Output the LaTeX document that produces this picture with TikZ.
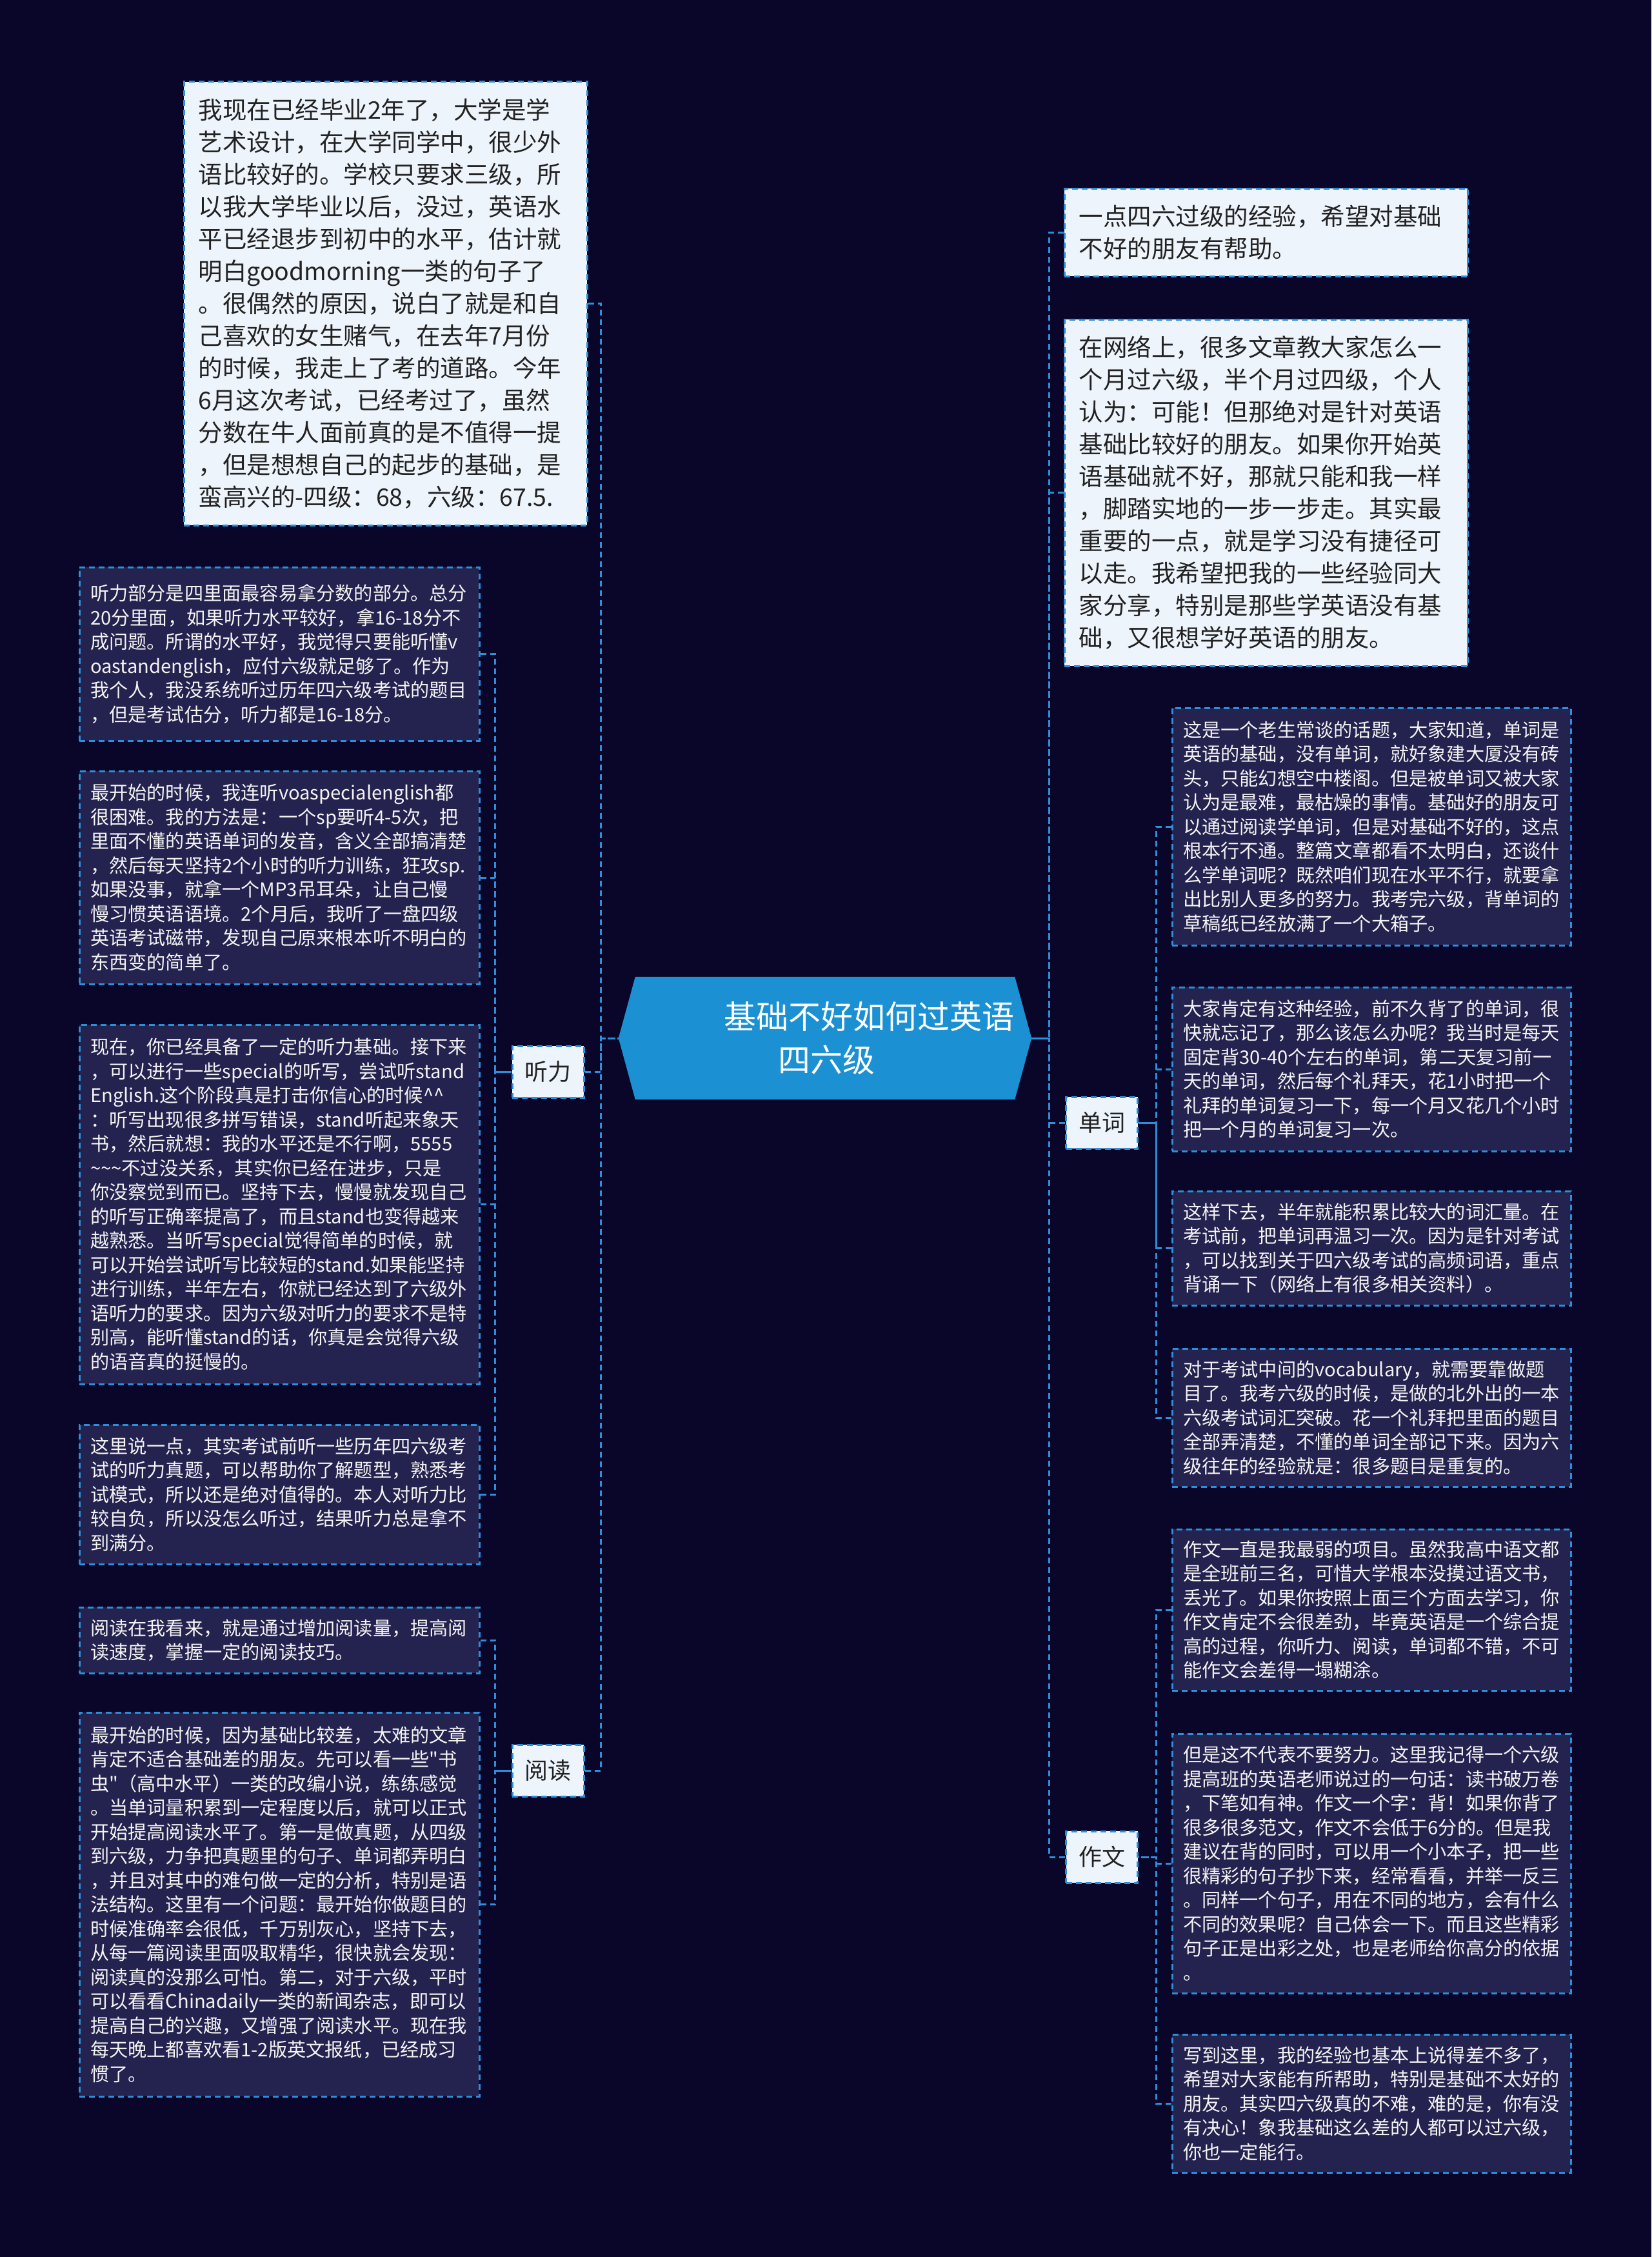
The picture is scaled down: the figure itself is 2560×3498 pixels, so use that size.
\documentclass[tikz,border=0pt]{standalone}
\usepackage{fontspec}
\setmainfont{Noto Sans CJK SC}[Ligatures=TeXOff]
\usetikzlibrary{backgrounds}
\definecolor{bgc}{HTML}{0A062A}
\definecolor{darkf}{HTML}{24224E}
\definecolor{lightf}{HTML}{EEF4FC}
\definecolor{linec}{HTML}{2B8FDA}
\definecolor{centerf}{HTML}{1B90D2}
\definecolor{darkt}{HTML}{222222}
\definecolor{lightt}{HTML}{F4F4F4}
\tikzset{
  dashline/.style={draw=linec, dash pattern=on 9pt off 6pt, line width=3pt},
  conn/.style={dashline},
  lightbox/.style={dashline, fill=lightf, text=darkt, font=\fontsize{37.5}{50}\selectfont, align=left, inner sep=0pt},
  darkbox/.style={dashline, fill=darkf, text=lightt, font=\fontsize{29.2}{37.5}\selectfont, align=left, inner sep=0pt},
  catbox/.style={dashline, fill=lightf, text=darkt, font=\fontsize{36}{40}\selectfont, inner sep=0pt, minimum width=111pt, minimum height=80pt},
  ctrnode/.style={text=white, font=\fontsize{50}{67}\selectfont, align=left, inner sep=0pt, text width=640pt, minimum height=190pt}
}
\begin{document}
\begin{tikzpicture}[x=1pt,y=-1pt]
\useasboundingbox (0,0) rectangle (2560,3498);

% centre
\node[ctrnode] (ctr) at (1279,1609) {\hspace*{163pt}基础不好如何过英语\\\hspace*{247pt}四六级};
\begin{scope}[on background layer]
\fill[bgc] (0,0) rectangle (2560,3498);
\fill[centerf] (ctr.west) -- ([xshift=26pt]ctr.north west) -- ([xshift=-26pt]ctr.north east) -- (ctr.east) -- ([xshift=-26pt]ctr.south east) -- ([xshift=26pt]ctr.south west) -- cycle;
\end{scope}

% left side
\node[lightbox, minimum width=625pt, minimum height=687pt, text width=580pt] (tl) at (597.5,470.5) {我现在已经毕业2年了，大学是学\\艺术设计，在大学同学中，很少外\\语比较好的。学校只要求三级，所\\以我大学毕业以后，没过，英语水\\平已经退步到初中的水平，估计就\\明白goodmorning一类的句子了\\。很偶然的原因，说白了就是和自\\己喜欢的女生赌气，在去年7月份\\的时候，我走上了考的道路。今年\\6月这次考试，已经考过了，虽然\\分数在牛人面前真的是不值得一提\\，但是想想自己的起步的基础，是\\蛮高兴的-四级：68，六级：67.5.};

\node[catbox] (tingli) at (849.5,1661) {听力};
\node[catbox] (yuedu) at (849.5,2744) {阅读};

\node[darkbox, minimum width=620pt, minimum height=269pt, text width=586pt] (l1) at (433,1013.5) {听力部分是四里面最容易拿分数的部分。总分\\20分里面，如果听力水平较好，拿16-18分不\\成问题。所谓的水平好，我觉得只要能听懂v\\oastandenglish，应付六级就足够了。作为\\我个人，我没系统听过历年四六级考试的题目\\，但是考试估分，听力都是16-18分。};

\node[darkbox, minimum width=620pt, minimum height=330pt, text width=586pt] (l2) at (433,1360) {最开始的时候，我连听voaspecialenglish都\\很困难。我的方法是：一个sp要听4-5次，把\\里面不懂的英语单词的发音，含义全部搞清楚\\，然后每天坚持2个小时的听力训练，狂攻sp.\\如果没事，就拿一个MP3吊耳朵，让自己慢\\慢习惯英语语境。2个月后，我听了一盘四级\\英语考试磁带，发现自己原来根本听不明白的\\东西变的简单了。};

\node[darkbox, minimum width=620pt, minimum height=557pt, text width=586pt] (l3) at (433,1866.5) {现在，你已经具备了一定的听力基础。接下来\\，可以进行一些special的听写，尝试听stand\\English.这个阶段真是打击你信心的时候\textasciicircum\textasciicircum\\：听写出现很多拼写错误，stand听起来象天\\书，然后就想：我的水平还是不行啊，5555\\\textasciitilde\textasciitilde\textasciitilde 不过没关系，其实你已经在进步，只是\\你没察觉到而已。坚持下去，慢慢就发现自己\\的听写正确率提高了，而且stand也变得越来\\越熟悉。当听写special觉得简单的时候，就\\可以开始尝试听写比较短的stand.如果能坚持\\进行训练，半年左右，你就已经达到了六级外\\语听力的要求。因为六级对听力的要求不是特\\别高，能听懂stand的话，你真是会觉得六级\\的语音真的挺慢的。};

\node[darkbox, minimum width=620pt, minimum height=216pt, text width=586pt] (l4) at (433,2316) {这里说一点，其实考试前听一些历年四六级考\\试的听力真题，可以帮助你了解题型，熟悉考\\试模式，所以还是绝对值得的。本人对听力比\\较自负，所以没怎么听过，结果听力总是拿不\\到满分。};

\node[darkbox, minimum width=620pt, minimum height=102pt, text width=586pt] (r1) at (433,2542) {阅读在我看来，就是通过增加阅读量，提高阅\\读速度，掌握一定的阅读技巧。};

\node[darkbox, minimum width=620pt, minimum height=595pt, text width=586pt] (r2) at (433,2951.5) {最开始的时候，因为基础比较差，太难的文章\\肯定不适合基础差的朋友。先可以看一些"书\\虫"（高中水平）一类的改编小说，练练感觉\\。当单词量积累到一定程度以后，就可以正式\\开始提高阅读水平了。第一是做真题，从四级\\到六级，力争把真题里的句子、单词都弄明白\\，并且对其中的难句做一定的分析，特别是语\\法结构。这里有一个问题：最开始你做题目的\\时候准确率会很低，千万别灰心，坚持下去，\\从每一篇阅读里面吸取精华，很快就会发现：\\阅读真的没那么可怕。第二，对于六级，平时\\可以看看Chinadaily一类的新闻杂志，即可以\\提高自己的兴趣，又增强了阅读水平。现在我\\每天晚上都喜欢看1-2版英文报纸，已经成习\\惯了。};

% right side
\node[lightbox, minimum width=625pt, minimum height=136pt, text width=580pt] (tr1) at (1962.5,360) {一点四六过级的经验，希望对基础\\不好的朋友有帮助。};

\node[lightbox, minimum width=625pt, minimum height=537pt, text width=580pt] (tr2) at (1962.5,763.5) {在网络上，很多文章教大家怎么一\\个月过六级，半个月过四级，个人\\认为：可能！但那绝对是针对英语\\基础比较好的朋友。如果你开始英\\语基础就不好，那就只能和我一样\\，脚踏实地的一步一步走。其实最\\重要的一点，就是学习没有捷径可\\以走。我希望把我的一些经验同大\\家分享，特别是那些学英语没有基\\础，又很想学好英语的朋友。};

\node[catbox] (danci) at (1708,1740) {单词};
\node[catbox] (zuowen) at (1708,2878) {作文};

\node[darkbox, minimum width=618pt, minimum height=368pt, text width=584pt] (w1) at (2126,1281) {这是一个老生常谈的话题，大家知道，单词是\\英语的基础，没有单词，就好象建大厦没有砖\\头，只能幻想空中楼阁。但是被单词又被大家\\认为是最难，最枯燥的事情。基础好的朋友可\\以通过阅读学单词，但是对基础不好的，这点\\根本行不通。整篇文章都看不太明白，还谈什\\么学单词呢？既然咱们现在水平不行，就要拿\\出比别人更多的努力。我考完六级，背单词的\\草稿纸已经放满了一个大箱子。};

\node[darkbox, minimum width=618pt, minimum height=254pt, text width=584pt] (w2) at (2126,1657) {大家肯定有这种经验，前不久背了的单词，很\\快就忘记了，那么该怎么办呢？我当时是每天\\固定背30-40个左右的单词，第二天复习前一\\天的单词，然后每个礼拜天，花1小时把一个\\礼拜的单词复习一下，每一个月又花几个小时\\把一个月的单词复习一次。};

\node[darkbox, minimum width=618pt, minimum height=177pt, text width=584pt] (w3) at (2126,1934.5) {这样下去，半年就能积累比较大的词汇量。在\\考试前，把单词再温习一次。因为是针对考试\\，可以找到关于四六级考试的高频词语，重点\\背诵一下（网络上有很多相关资料）。};

\node[darkbox, minimum width=618pt, minimum height=214pt, text width=584pt] (w4) at (2126,2197) {对于考试中间的vocabulary，就需要靠做题\\目了。我考六级的时候，是做的北外出的一本\\六级考试词汇突破。花一个礼拜把里面的题目\\全部弄清楚，不懂的单词全部记下来。因为六\\级往年的经验就是：很多题目是重复的。};

\node[darkbox, minimum width=618pt, minimum height=250pt, text width=584pt] (z1) at (2126,2495) {作文一直是我最弱的项目。虽然我高中语文都\\是全班前三名，可惜大学根本没摸过语文书，\\丢光了。如果你按照上面三个方面去学习，你\\作文肯定不会很差劲，毕竟英语是一个综合提\\高的过程，你听力、阅读，单词都不错，不可\\能作文会差得一塌糊涂。};

\node[darkbox, minimum width=618pt, minimum height=402pt, text width=584pt] (z2) at (2126,2888) {但是这不代表不要努力。这里我记得一个六级\\提高班的英语老师说过的一句话：读书破万卷\\，下笔如有神。作文一个字：背！如果你背了\\很多很多范文，作文不会低于6分的。但是我\\建议在背的同时，可以用一个小本子，把一些\\很精彩的句子抄下来，经常看看，并举一反三\\。同样一个句子，用在不同的地方，会有什么\\不同的效果呢？自己体会一下。而且这些精彩\\句子正是出彩之处，也是老师给你高分的依据\\。};

\node[darkbox, minimum width=618pt, minimum height=214pt, text width=584pt] (z3) at (2126,3260) {写到这里，我的经验也基本上说得差不多了，\\希望对大家能有所帮助，特别是基础不太好的\\朋友。其实四六级真的不难，难的是，你有没\\有决心！象我基础这么差的人都可以过六级，\\你也一定能行。};

% trunk coordinates
\coordinate (cL) at ([xshift=-27pt]ctr.west);
\coordinate (cR) at ([xshift=27pt]ctr.east);
\coordinate (tL) at ([xshift=-25pt]tingli.west);
\coordinate (yL) at ([xshift=-25pt]yuedu.west);
\coordinate (dR) at ([xshift=27pt]danci.east);
\coordinate (zR) at ([xshift=27pt]zuowen.east);

% connectors (drawn from child to parent)
\foreach \c in {tl,tingli,yuedu} \draw[conn] (\c.east) -| (cL) -- (ctr.west);
\foreach \c in {tr1,tr2,danci,zuowen} \draw[conn] (\c.west) -| (cR) -- (ctr.east);
\foreach \c in {l1,l2,l3,l4} \draw[conn] (\c.east) -| (tL) -- (tingli.west);
\foreach \c in {r1,r2} \draw[conn] (\c.east) -| (yL) -- (yuedu.west);
\foreach \c in {w1,w2,w3,w4} \draw[conn] (\c.west) -| (dR) -- (danci.east);
\foreach \c in {z1,z2,z3} \draw[conn] (\c.west) -| (zR) -- (zuowen.east);
\end{tikzpicture}
\end{document}
